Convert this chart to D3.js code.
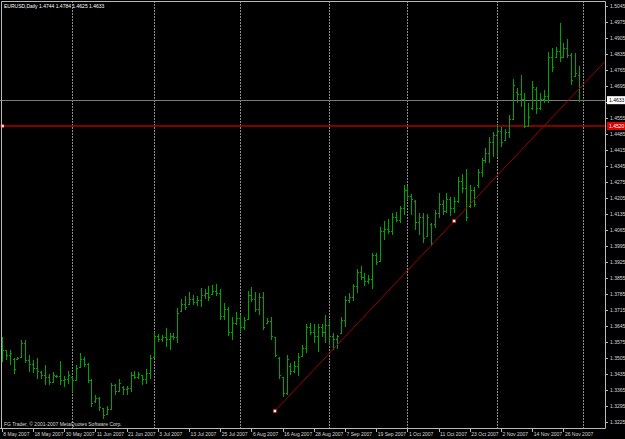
<!DOCTYPE html>
<html>
<head>
<meta charset="utf-8">
<script src="https://cdn.jsdelivr.net/npm/d3@7"></script>
<style>
  html, body { margin: 0; padding: 0; background: #000; }
  svg { display: block; }
  text { font-family: "Liberation Sans", Arial, sans-serif; }
</style>
</head>
<body>
<svg id="chart"></svg>
<script>
const width = 625;
const height = 439;
const plotRight = 605;
const plotBottom = 428;

const symbol = "EURUSD,Daily";
const footer = "FG Trader, \u00a9 2001-2007 MetaQuotes Software Corp.";

// daily bars from 8 May 2007 to 30 Nov 2007, one per weekday
const open = [
  1.3560, 1.3540, 1.3520, 1.3500, 1.3502, 1.3510, 1.3570, 1.3495, 1.3480, 1.3460,
  1.3445, 1.3430, 1.3420, 1.3400, 1.3428, 1.3425, 1.3410, 1.3415, 1.3420, 1.3410,
  1.3465, 1.3500, 1.3480, 1.3410, 1.3315, 1.3330, 1.3285, 1.3260, 1.3280, 1.3385,
  1.3360, 1.3380, 1.3370, 1.3375, 1.3430, 1.3420, 1.3430, 1.3415, 1.3440, 1.3510,
  1.3600, 1.3590, 1.3595, 1.3590, 1.3600, 1.3595, 1.3710, 1.3740, 1.3740, 1.3765,
  1.3750, 1.3760, 1.3780, 1.3790, 1.3785, 1.3800, 1.3790, 1.3690, 1.3720, 1.3620,
  1.3660, 1.3680, 1.3640, 1.3675, 1.3780, 1.3765, 1.3720, 1.3770, 1.3660, 1.3665,
  1.3595, 1.3505, 1.3420, 1.3350, 1.3470, 1.3450, 1.3470, 1.3515, 1.3550, 1.3640,
  1.3620, 1.3600, 1.3640, 1.3620, 1.3650, 1.3600, 1.3590, 1.3615, 1.3670, 1.3760,
  1.3770, 1.3820, 1.3880, 1.3860, 1.3840, 1.3850, 1.3955, 1.3930, 1.4060, 1.4070,
  1.4060, 1.4120, 1.4110, 1.4160, 1.4240, 1.4215, 1.4190, 1.4100, 1.4120, 1.4040,
  1.4090, 1.4090, 1.4140, 1.4180, 1.4150, 1.4200, 1.4160, 1.4190, 1.4280, 1.4250,
  1.4170, 1.4240, 1.4260, 1.4320, 1.4370, 1.4400, 1.4450, 1.4480, 1.4500, 1.4460,
  1.4495, 1.4550, 1.4670, 1.4660, 1.4640, 1.4520, 1.4600, 1.4680, 1.4600, 1.4640,
  1.4650, 1.4820, 1.4820, 1.4850, 1.4820, 1.4860, 1.4830, 1.4740, 1.4744
];
const high = [
  1.3598, 1.3542, 1.3542, 1.3507, 1.3511, 1.3585, 1.3585, 1.3520, 1.3498, 1.3507,
  1.3450, 1.3476, 1.3437, 1.3445, 1.3432, 1.3494, 1.3428, 1.3450, 1.3424, 1.3476,
  1.3528, 1.3511, 1.3485, 1.3411, 1.3345, 1.3336, 1.3288, 1.3297, 1.3397, 1.3393,
  1.3411, 1.3384, 1.3384, 1.3445, 1.3450, 1.3445, 1.3432, 1.3459, 1.3520, 1.3620,
  1.3611, 1.3607, 1.3638, 1.3616, 1.3616, 1.3725, 1.3764, 1.3778, 1.3795, 1.3782,
  1.3778, 1.3812, 1.3808, 1.3821, 1.3826, 1.3830, 1.3808, 1.3747, 1.3729, 1.3686,
  1.3708, 1.3694, 1.3686, 1.3799, 1.3817, 1.3795, 1.3791, 1.3795, 1.3681, 1.3686,
  1.3598, 1.3511, 1.3424, 1.3520, 1.3485, 1.3494, 1.3528, 1.3563, 1.3655, 1.3660,
  1.3655, 1.3655, 1.3655, 1.3694, 1.3673, 1.3616, 1.3607, 1.3686, 1.3778, 1.3791,
  1.3830, 1.3896, 1.3909, 1.3878, 1.3869, 1.3965, 1.3965, 1.4079, 1.4105, 1.4114,
  1.4140, 1.4145, 1.4171, 1.4263, 1.4258, 1.4223, 1.4197, 1.4140, 1.4140, 1.4136,
  1.4097, 1.4153, 1.4228, 1.4197, 1.4228, 1.4210, 1.4210, 1.4298, 1.4311, 1.4333,
  1.4263, 1.4254, 1.4333, 1.4381, 1.4424, 1.4472, 1.4494, 1.4520, 1.4516, 1.4507,
  1.4568, 1.4726, 1.4686, 1.4743, 1.4665, 1.4621, 1.4717, 1.4691, 1.4665, 1.4678,
  1.4844, 1.4861, 1.4866, 1.4971, 1.4883, 1.4901, 1.4839, 1.4839, 1.4784
];
const low = [
  1.3489, 1.3498, 1.3476, 1.3437, 1.3498, 1.3507, 1.3485, 1.3445, 1.3441, 1.3411,
  1.3411, 1.3389, 1.3389, 1.3397, 1.3419, 1.3389, 1.3380, 1.3393, 1.3358, 1.3406,
  1.3463, 1.3467, 1.3397, 1.3292, 1.3310, 1.3271, 1.3236, 1.3258, 1.3279, 1.3345,
  1.3358, 1.3345, 1.3345, 1.3358, 1.3411, 1.3411, 1.3389, 1.3393, 1.3411, 1.3507,
  1.3577, 1.3577, 1.3555, 1.3542, 1.3585, 1.3572, 1.3708, 1.3716, 1.3738, 1.3738,
  1.3734, 1.3729, 1.3764, 1.3756, 1.3782, 1.3778, 1.3673, 1.3673, 1.3603, 1.3585,
  1.3651, 1.3620, 1.3629, 1.3673, 1.3751, 1.3708, 1.3694, 1.3629, 1.3655, 1.3585,
  1.3511, 1.3415, 1.3336, 1.3341, 1.3432, 1.3441, 1.3428, 1.3511, 1.3528, 1.3607,
  1.3572, 1.3533, 1.3598, 1.3572, 1.3563, 1.3542, 1.3546, 1.3611, 1.3642, 1.3747,
  1.3756, 1.3791, 1.3847, 1.3821, 1.3830, 1.3808, 1.3913, 1.3930, 1.4022, 1.4048,
  1.4044, 1.4101, 1.4097, 1.4131, 1.4197, 1.4131, 1.4066, 1.4044, 1.4009, 1.4035,
  1.3996, 1.4075, 1.4118, 1.4131, 1.4140, 1.4127, 1.4140, 1.4184, 1.4228, 1.4105,
  1.4162, 1.4166, 1.4249, 1.4298, 1.4359, 1.4359, 1.4385, 1.4385, 1.4429, 1.4459,
  1.4468, 1.4547, 1.4621, 1.4603, 1.4512, 1.4516, 1.4590, 1.4573, 1.4590, 1.4621,
  1.4621, 1.4756, 1.4818, 1.4800, 1.4818, 1.4818, 1.4700, 1.4735, 1.4625
];
const close = [
  1.3540, 1.3520, 1.3525, 1.3455, 1.3505, 1.3570, 1.3495, 1.3480, 1.3460, 1.3450,
  1.3430, 1.3420, 1.3400, 1.3430, 1.3425, 1.3410, 1.3415, 1.3430, 1.3410, 1.3460,
  1.3500, 1.3480, 1.3410, 1.3310, 1.3330, 1.3290, 1.3255, 1.3280, 1.3385, 1.3360,
  1.3395, 1.3370, 1.3375, 1.3430, 1.3420, 1.3435, 1.3415, 1.3440, 1.3505, 1.3600,
  1.3590, 1.3595, 1.3590, 1.3600, 1.3595, 1.3700, 1.3740, 1.3730, 1.3765, 1.3750,
  1.3760, 1.3780, 1.3790, 1.3770, 1.3800, 1.3790, 1.3690, 1.3720, 1.3620, 1.3660,
  1.3680, 1.3640, 1.3670, 1.3780, 1.3765, 1.3720, 1.3770, 1.3640, 1.3665, 1.3600,
  1.3520, 1.3430, 1.3350, 1.3500, 1.3450, 1.3470, 1.3510, 1.3550, 1.3640, 1.3620,
  1.3600, 1.3640, 1.3620, 1.3650, 1.3600, 1.3590, 1.3600, 1.3670, 1.3760, 1.3770,
  1.3820, 1.3880, 1.3860, 1.3840, 1.3850, 1.3955, 1.3925, 1.4060, 1.4070, 1.4060,
  1.4120, 1.4110, 1.4160, 1.4240, 1.4215, 1.4200, 1.4100, 1.4120, 1.4030, 1.4120,
  1.4010, 1.4140, 1.4180, 1.4150, 1.4200, 1.4160, 1.4190, 1.4280, 1.4250, 1.4120,
  1.4240, 1.4180, 1.4320, 1.4370, 1.4400, 1.4450, 1.4480, 1.4500, 1.4450, 1.4495,
  1.4550, 1.4700, 1.4660, 1.4640, 1.4520, 1.4560, 1.4690, 1.4600, 1.4640, 1.4650,
  1.4820, 1.4780, 1.4850, 1.4820, 1.4860, 1.4830, 1.4720, 1.4750, 1.4633
];

const priceTicks = [
  1.3225, 1.3295, 1.3365, 1.3435, 1.3505, 1.3575, 1.3645, 1.3715, 1.3785,
  1.3855, 1.3925, 1.3995, 1.4065, 1.4135, 1.4205, 1.4275, 1.4345, 1.4415,
  1.4485, 1.4555, 1.4625, 1.4695, 1.4765, 1.4835, 1.4905, 1.4975, 1.5045
];
const dateTicks = [
  "8 May 2007", "18 May 2007", "30 May 2007", "11 Jun 2007", "21 Jun 2007",
  "3 Jul 2007", "13 Jul 2007", "25 Jul 2007", "6 Aug 2007", "16 Aug 2007",
  "28 Aug 2007", "7 Sep 2007", "19 Sep 2007", "1 Oct 2007", "11 Oct 2007",
  "23 Oct 2007", "2 Nov 2007", "14 Nov 2007", "26 Nov 2007"
];
const monthStarts = ["1 Jun 2007", "2 Jul 2007", "1 Aug 2007", "3 Sep 2007",
  "1 Oct 2007", "1 Nov 2007", "3 Dec 2007"];

const levelPrice = 1.4520;
const trendDates = ["14 Aug 2007", "17 Oct 2007"];
const trendPrices = [1.3273, 1.4104];

// trading calendar (weekdays), one slot past the last bar
const parseDate = d3.timeParse("%d %b %Y");
const days = d3.timeDay.range(new Date(2007, 4, 8), new Date(2007, 11, 4))
  .filter(d => d.getDay() !== 0 && d.getDay() !== 6);
const indexOf = s => days.findIndex(d => +d === +parseDate(s));

const bars = open.map((o, i) => ({ i, o, h: high[i], l: low[i], c: close[i] }));

const xScale = d3.scaleLinear().domain([0, 149]).range([1.8, 582.9]);
const yScale = d3.scaleLinear().domain([1.3225, 1.5045]).range([422, 6]);
const px = v => Math.round(v) + 0.5;

const svg = d3.select("#chart").attr("width", width).attr("height", height);
svg.append("rect").attr("width", width).attr("height", height).attr("fill", "#000");

// month grid
svg.append("g").selectAll("line")
  .data(monthStarts)
  .enter()
  .append("line")
  .attr("x1", d => px(xScale(indexOf(d))))
  .attr("x2", d => px(xScale(indexOf(d))))
  .attr("y1", 1)
  .attr("y2", plotBottom)
  .attr("stroke", "#8c8c8c")
  .attr("stroke-dasharray", "2,1");

// level line and bid line
svg.append("line")
  .attr("x1", 0).attr("x2", plotRight)
  .attr("y1", yScale(levelPrice)).attr("y2", yScale(levelPrice))
  .attr("stroke", "#a80000")
  .attr("stroke-width", 1.6);
svg.append("line")
  .attr("x1", 0).attr("x2", plotRight)
  .attr("y1", px(yScale(close[close.length - 1])))
  .attr("y2", px(yScale(close[close.length - 1])))
  .attr("stroke", "#7a7a7a");

// bars
const barG = svg.append("g").attr("stroke", "#00a400").attr("shape-rendering", "crispEdges");
barG.selectAll(".hl")
  .data(bars)
  .enter()
  .append("line")
  .attr("x1", d => px(xScale(d.i)))
  .attr("x2", d => px(xScale(d.i)))
  .attr("y1", d => yScale(d.h))
  .attr("y2", d => yScale(d.l));
barG.selectAll(".op")
  .data(bars)
  .enter()
  .append("line")
  .attr("x1", d => px(xScale(d.i)) - 1.5)
  .attr("x2", d => px(xScale(d.i)))
  .attr("y1", d => px(yScale(d.o)))
  .attr("y2", d => px(yScale(d.o)));
barG.selectAll(".cl")
  .data(bars)
  .enter()
  .append("line")
  .attr("x1", d => px(xScale(d.i)))
  .attr("x2", d => px(xScale(d.i)) + 1.5)
  .attr("y1", d => px(yScale(d.c)))
  .attr("y2", d => px(yScale(d.c)));

// trend line, extended to the right edge
const t0 = indexOf(trendDates[0]);
const t1 = indexOf(trendDates[1]);
const slope = (trendPrices[1] - trendPrices[0]) / (t1 - t0);
const tEnd = xScale.invert(plotRight);
svg.append("line")
  .attr("x1", xScale(t0)).attr("y1", yScale(trendPrices[0]))
  .attr("x2", plotRight).attr("y2", yScale(trendPrices[0] + slope * (tEnd - t0)))
  .attr("stroke", "#a00000");
svg.append("g").selectAll("rect")
  .data([t0, t1])
  .enter()
  .append("rect")
  .attr("x", (d, k) => xScale(d) - 1.5)
  .attr("y", (d, k) => yScale(trendPrices[k]) - 1.5)
  .attr("width", 3).attr("height", 3)
  .attr("fill", "#fff").attr("stroke", "#e00000").attr("stroke-width", 0.6);
svg.append("rect")
  .attr("x", 1).attr("y", yScale(levelPrice) - 1.5)
  .attr("width", 3).attr("height", 3)
  .attr("fill", "#fff").attr("stroke", "#e00000").attr("stroke-width", 0.6);

// frame
svg.append("path")
  .attr("d", `M1.5,${plotBottom + 0.5}V1.5H${plotRight + 0.5}V${plotBottom + 0.5}H0`)
  .attr("fill", "none")
  .attr("stroke", "#b8b8b8");

// price boxes on the axis
const boxes = [
  { p: close[close.length - 1], fill: "#fff", color: "#000" },
  { p: levelPrice, fill: "#e00000", color: "#fff" }
];

// price axis (labels under a box are hidden, as in the terminal)
const hidden = d => boxes.some(b => Math.abs(yScale(b.p) - yScale(d)) < 6);
const yAxis = svg.append("g").attr("font-size", 5).attr("fill", "#d8d8d8");
yAxis.selectAll("line")
  .data(priceTicks)
  .enter()
  .append("line")
  .attr("x1", plotRight).attr("x2", plotRight + 3)
  .attr("y1", d => px(yScale(d))).attr("y2", d => px(yScale(d)))
  .attr("stroke", "#b8b8b8");
yAxis.selectAll("text")
  .data(priceTicks.filter(d => !hidden(d)))
  .enter()
  .append("text")
  .attr("x", plotRight + 5)
  .attr("y", d => yScale(d))
  .attr("dy", "0.35em")
  .text(d => d.toFixed(4));

const boxG = svg.append("g").attr("font-size", 5);
boxG.selectAll("rect")
  .data(boxes)
  .enter()
  .append("rect")
  .attr("x", plotRight + 2).attr("y", d => yScale(d.p) - 4)
  .attr("width", 18).attr("height", 8)
  .attr("fill", d => d.fill);
boxG.selectAll("text")
  .data(boxes)
  .enter()
  .append("text")
  .attr("x", plotRight + 4)
  .attr("y", d => yScale(d.p))
  .attr("dy", "0.35em")
  .attr("fill", d => d.color)
  .text(d => d.p.toFixed(4));

// date axis
const fmt = d3.timeFormat("%-d %b %Y");
const xAxis = svg.append("g").attr("font-size", 5).attr("fill", "#d8d8d8");
xAxis.selectAll("line")
  .data(dateTicks)
  .enter()
  .append("line")
  .attr("x1", d => px(xScale(indexOf(d)))).attr("x2", d => px(xScale(indexOf(d))))
  .attr("y1", plotBottom).attr("y2", plotBottom + 4)
  .attr("stroke", "#b8b8b8");
xAxis.selectAll("text")
  .data(dateTicks)
  .enter()
  .append("text")
  .attr("x", d => xScale(indexOf(d)) + 1.5)
  .attr("y", plotBottom + 8)
  .text(d => fmt(parseDate(d)));

// captions
const last = bars[bars.length - 1];
svg.append("text")
  .attr("x", 4).attr("y", 8)
  .attr("font-size", 5).attr("fill", "#fff")
  .text(`${symbol}  ${last.o.toFixed(4)} ${last.h.toFixed(4)} ${last.l.toFixed(4)} ${last.c.toFixed(4)}`);
svg.append("text")
  .attr("x", 4).attr("y", plotBottom - 2)
  .attr("font-size", 5).attr("fill", "#d8d8d8")
  .text(footer);
</script>
</body>
</html>
